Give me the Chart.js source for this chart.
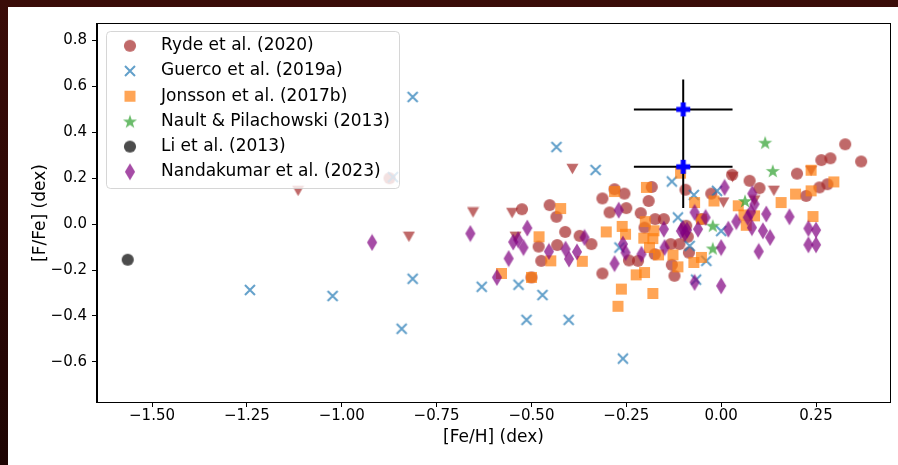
<!DOCTYPE html>
<html><head><meta charset="utf-8">
<script src="https://cdn.jsdelivr.net/npm/chart.js@4.4.1/dist/chart.umd.min.js"></script>
<style>html,body{margin:0;padding:0;background:#220504;overflow:hidden}canvas{display:block}</style>
</head><body><canvas id="c" width="898" height="465"></canvas>
<script>
// ---------------- data ----------------
const xTickValues = [-1.5, -1.25, -1.0, -0.75, -0.5, -0.25, 0.0, 0.25];
const xTickLabels = ['−1.50','−1.25','−1.00','−0.75','−0.50','−0.25','0.00','0.25'];
const yTickValues = [-0.6, -0.4, -0.2, 0.0, 0.2, 0.4, 0.6, 0.8];
const yTickLabels = ['−0.6','−0.4','−0.2','0.0','0.2','0.4','0.6','0.8'];
const xTitle = '[Fe/H] (dex)';
const yTitle = '[F/Fe] (dex)';
const legendLabels = ['Ryde et al. (2020)','Guerco et al. (2019a)','Jonsson et al. (2017b)','Nault & Pilachowski (2013)','Li et al. (2013)','Nandakumar et al. (2023)'];

const rydeFeH = [-0.874,-0.525,-0.452,-0.434,-0.411,-0.373,-0.342,-0.481,-0.432,-0.474,-0.500,-0.313,-0.313,-0.281,-0.255,-0.294,-0.250,-0.243,-0.219,-0.183,-0.191,-0.212,-0.202,-0.174,-0.151,-0.175,-0.133,-0.110,-0.130,-0.123,-0.094,-0.092,-0.088,-0.085,0.029,0.075,0.101,-0.026,0.200,0.224,0.259,0.280,0.264,0.288,0.327,0.369,-0.052];
const rydeFFe = [0.200,0.065,0.083,0.032,-0.034,-0.051,-0.087,-0.098,-0.091,-0.160,-0.232,-0.215,0.112,0.152,0.133,0.051,0.070,-0.158,-0.160,0.162,0.101,0.048,-0.015,0.022,0.022,-0.131,-0.087,-0.087,-0.177,-0.225,0.150,-0.007,-0.055,-0.124,0.215,0.189,0.157,0.133,0.220,0.123,0.160,0.174,0.279,0.287,0.348,0.273,0.022];

const rydeLimFeH = [-1.115,-0.823,-0.654,-0.551,-0.542,-0.392,0.030,0.006,0.088,0.139,0.237];
const rydeLimFFe = [0.145,-0.055,0.051,0.048,-0.055,0.240,0.205,0.094,0.103,0.145,0.232];

const guercoFeH = [-1.242,-1.024,-0.842,-0.813,-0.813,-0.631,-0.534,-0.513,-0.471,-0.434,-0.402,-0.331,-0.259,-0.865,-0.130,-0.114,-0.268,-0.072,-0.011,-0.083,-0.039,-0.066,0.000];
const guercoFFe = [-0.287,-0.313,-0.456,0.554,-0.238,-0.273,-0.264,-0.417,-0.309,0.336,-0.417,0.236,-0.586,0.205,0.186,0.029,-0.102,0.127,0.145,-0.095,-0.160,-0.242,-0.030];

const jonssonFeH = [-0.423,-0.480,-0.449,-0.366,-0.579,-0.500,-0.303,-0.281,-0.261,-0.252,-0.263,-0.272,-0.197,-0.200,-0.204,-0.189,-0.177,-0.180,-0.165,-0.224,-0.202,-0.180,-0.127,-0.114,-0.107,-0.070,-0.052,-0.052,-0.072,0.045,0.060,0.066,0.088,0.158,0.196,0.237,0.237,0.297,0.242,-0.019];
const jonssonFFe = [0.068,-0.055,-0.160,-0.162,-0.215,-0.232,-0.034,0.142,-0.010,-0.044,-0.283,-0.358,0.160,0.011,-0.061,-0.102,-0.029,-0.063,-0.134,-0.221,-0.211,-0.302,-0.134,-0.186,0.222,0.094,0.022,-0.145,-0.167,0.080,0.040,-0.005,0.036,0.094,0.131,0.145,0.235,0.184,0.033,0.101];

const naultFeH = [0.116,0.136,0.063,-0.022,-0.022];
const naultFFe = [0.355,0.232,0.101,-0.007,-0.106];

const liFeH = [-1.564];
const liFFe = [-0.155];

const nandaFeH = [-0.920,-0.661,-0.511,-0.548,-0.535,-0.521,-0.560,-0.591,-0.454,-0.410,-0.401,-0.380,-0.360,-0.281,-0.270,-0.259,-0.252,-0.210,-0.151,-0.149,-0.101,-0.090,-0.095,-0.070,-0.061,-0.041,-0.070,0.000,0.000,0.009,0.019,0.040,0.070,0.082,0.088,0.078,0.081,0.119,0.110,0.129,0.099,0.180,0.230,0.250,0.230,0.250,-0.106];
const nandaFFe = [-0.080,-0.041,-0.017,-0.078,-0.068,-0.102,-0.150,-0.232,-0.119,-0.109,-0.152,-0.121,-0.058,-0.172,0.061,-0.087,-0.124,-0.131,-0.022,-0.102,-0.019,-0.026,-0.040,0.051,-0.022,0.029,-0.254,-0.102,-0.269,0.160,-0.022,0.011,0.029,0.133,0.087,0.051,-0.015,0.044,-0.029,-0.058,-0.119,0.032,-0.019,-0.026,-0.090,-0.090,-0.030];

const ourFeH = [-0.10, -0.10];
const ourFFe = [0.50, 0.25];
const ourFeHErr = [0.13, 0.13];
const ourFFeErr = [0.13, 0.18];

// ---------------- styles ----------------
const FONT = 'DejaVu Sans';
const C_RYDE = 'rgba(165,42,42,0.7)';
const C_GUER = 'rgba(31,119,180,0.7)';
const C_JONS = 'rgba(255,127,14,0.7)';
const C_NAUL = 'rgba(44,160,44,0.7)';
const C_LI   = 'rgba(0,0,0,0.7)';
const C_NAND = 'rgba(128,0,128,0.7)';
const C_OUR  = '#0000ff';

function makeMarker(w, h, fn) {
  const c = document.createElement('canvas');
  c.width = w; c.height = h;
  fn(c.getContext('2d'), w / 2, h / 2);
  return c;
}
const circleMarker = col => makeMarker(14, 14, (g, cx, cy) => {
  g.fillStyle = col; g.beginPath(); g.arc(cx, cy, 6.1, 0, Math.PI * 2); g.fill();
});
const mRyde = circleMarker(C_RYDE);
const mLi = circleMarker(C_LI);
const mRydeLim = makeMarker(13, 12, (g) => {
  g.fillStyle = C_RYDE; g.beginPath(); g.moveTo(0.5, 0.8); g.lineTo(12.5, 0.8); g.lineTo(6.5, 11.2); g.closePath(); g.fill();
});
const mGuer = makeMarker(14, 14, (g, cx, cy) => {
  const d = 5.0; g.strokeStyle = C_GUER; g.lineWidth = 2; g.beginPath();
  g.moveTo(cx - d, cy - d); g.lineTo(cx + d, cy + d); g.moveTo(cx + d, cy - d); g.lineTo(cx - d, cy + d); g.stroke();
});
const mJons = makeMarker(13, 13, (g) => { g.fillStyle = C_JONS; g.fillRect(1, 1, 11, 11); });
const mNaul = makeMarker(16, 16, (g, cx, cy) => {
  g.fillStyle = C_NAUL; g.beginPath();
  for (let i = 0; i < 10; i++) {
    const r = i % 2 === 0 ? 7.4 : 2.9;
    const a = -Math.PI / 2 + i * Math.PI / 5;
    const px = cx + r * Math.cos(a), py = cy + 0.6 + r * Math.sin(a);
    if (i === 0) g.moveTo(px, py); else g.lineTo(px, py);
  }
  g.closePath(); g.fill();
});
const mNand = makeMarker(12, 18, (g, cx, cy) => {
  g.fillStyle = C_NAND; g.beginPath();
  g.moveTo(cx, 0.5); g.lineTo(cx + 5.1, cy); g.lineTo(cx, 17.5); g.lineTo(cx - 5.1, cy); g.closePath(); g.fill();
});
const mOur = makeMarker(16, 16, (g, cx, cy) => {
  const a = 2.5, s = 7; g.fillStyle = C_OUR; g.beginPath();
  g.moveTo(cx - a, cy - s); g.lineTo(cx + a, cy - s); g.lineTo(cx + a, cy - a); g.lineTo(cx + s, cy - a);
  g.lineTo(cx + s, cy + a); g.lineTo(cx + a, cy + a); g.lineTo(cx + a, cy + s); g.lineTo(cx - a, cy + s);
  g.lineTo(cx - a, cy + a); g.lineTo(cx - s, cy + a); g.lineTo(cx - s, cy - a); g.lineTo(cx - a, cy - a);
  g.closePath(); g.fill();
});

const pts = (xs, ys) => xs.map((x, i) => ({ x: x, y: ys[i] }));
const ds = (label, xs, ys, marker, order, inLegend) => ({
  label, data: pts(xs, ys), pointStyle: marker, pointRadius: 6, pointHoverRadius: 6, order, inLegend, showLine: false
});

const datasets = [
  ds(legendLabels[0], rydeFeH, rydeFFe, mRyde, 8, true),
  ds('Ryde et al. (2020) upper limits', rydeLimFeH, rydeLimFFe, mRydeLim, 7, false),
  ds(legendLabels[1], guercoFeH, guercoFFe, mGuer, 6, true),
  ds(legendLabels[2], jonssonFeH, jonssonFFe, mJons, 5, true),
  ds(legendLabels[3], naultFeH, naultFFe, mNaul, 4, true),
  ds(legendLabels[4], liFeH, liFFe, mLi, 3, true),
  ds(legendLabels[5], nandaFeH, nandaFFe, mNand, 2, true),
  Object.assign(ds('This work', ourFeH, ourFFe, mOur, 1, false), { errX: ourFeHErr, errY: ourFFeErr })
];

// ---------------- plugins ----------------
const bgPlugin = {
  id: 'bg',
  beforeDraw(chart) {
    const g = chart.ctx, W = chart.width, H = chart.height;
    g.save();
    const gr = g.createLinearGradient(0, 0, 0, H);
    gr.addColorStop(0, '#3a0c08'); gr.addColorStop(0.6, '#2a0705'); gr.addColorStop(1, '#1e0503');
    g.fillStyle = gr; g.fillRect(0, 0, W, H);
    g.fillStyle = '#ffffff'; g.fillRect(8, 7, W - 8, H - 7);
    g.restore();
  }
};

const errPlugin = {
  id: 'errbars',
  beforeDatasetDraw(chart, args) {
    const d = chart.data.datasets[args.index];
    if (!d.errX) return;
    const g = chart.ctx, xs = chart.scales.x, ys = chart.scales.y;
    g.save(); g.strokeStyle = '#000'; g.lineWidth = 2; g.beginPath();
    d.data.forEach((p, i) => {
      const py = ys.getPixelForValue(p.y), px = xs.getPixelForValue(p.x);
      g.moveTo(xs.getPixelForValue(p.x - d.errX[i]), py); g.lineTo(xs.getPixelForValue(p.x + d.errX[i]), py);
      g.moveTo(px, ys.getPixelForValue(p.y + d.errY[i])); g.lineTo(px, ys.getPixelForValue(p.y - d.errY[i]));
    });
    g.stroke(); g.restore();
  }
};

const legendBox = { x: 106.5, y: 31.5, w: 293, h: 157, r: 4, markerX: 130, textX: 161, row0: 45.8, step: 25.2 };
const framePlugin = {
  id: 'frameLegend',
  afterDatasetsDraw(chart) {
    const g = chart.ctx, a = chart.chartArea;
    g.save();
    const b = legendBox;
    g.beginPath();
    g.moveTo(b.x + b.r, b.y); g.lineTo(b.x + b.w - b.r, b.y); g.arcTo(b.x + b.w, b.y, b.x + b.w, b.y + b.r, b.r);
    g.lineTo(b.x + b.w, b.y + b.h - b.r); g.arcTo(b.x + b.w, b.y + b.h, b.x + b.w - b.r, b.y + b.h, b.r);
    g.lineTo(b.x + b.r, b.y + b.h); g.arcTo(b.x, b.y + b.h, b.x, b.y + b.h - b.r, b.r);
    g.lineTo(b.x, b.y + b.r); g.arcTo(b.x, b.y, b.x + b.r, b.y, b.r); g.closePath();
    g.fillStyle = 'rgba(255,255,255,0.8)'; g.fill();
    g.strokeStyle = 'rgba(204,204,204,0.8)'; g.lineWidth = 1; g.stroke();
    g.font = '17px "' + FONT + '"'; g.fillStyle = '#000'; g.textBaseline = 'middle'; g.textAlign = 'left';
    chart.data.datasets.filter(d => d.inLegend).forEach((d, i) => {
      const y = b.row0 + i * b.step, img = d.pointStyle;
      g.drawImage(img, b.markerX - img.width / 2, y - img.height / 2);
      g.fillText(d.label, b.textX, y);
    });
    g.strokeStyle = '#000'; g.lineWidth = 1;
    g.strokeRect(Math.round(a.left) - 0.5, Math.round(a.top) - 0.5, Math.round(a.right - a.left) + 1, Math.round(a.bottom - a.top) + 1);
    g.restore();
  }
};

const tickLabel = (vals, labels) => (v) => {
  const i = vals.findIndex(t => Math.abs(t - v) < 1e-9);
  return i >= 0 ? labels[i] : '';
};

new Chart(document.getElementById('c').getContext('2d'), {
  type: 'scatter',
  data: { datasets },
  options: {
    responsive: false, animation: false, devicePixelRatio: 1, events: [],
    layout: { padding: { left: 0, right: 8, top: 24, bottom: 0 } },
    plugins: { legend: { display: false }, tooltip: { enabled: false } },
    scales: {
      x: {
        type: 'linear', min: -1.645, max: 0.445,
        afterBuildTicks: s => { s.ticks = xTickValues.map(v => ({ value: v })); },
        afterFit: s => { s.height = 63; },
        ticks: { autoSkip: false, maxRotation: 0, padding: 0, color: '#000', font: { family: FONT, size: 15 }, callback: tickLabel(xTickValues, xTickLabels) },
        grid: { display: true, drawOnChartArea: false, drawTicks: true, tickLength: 5, tickColor: '#000', tickWidth: 1 },
        border: { display: true, color: '#000', width: 1 },
        title: { display: true, text: xTitle, color: '#000', font: { family: FONT, size: 17 }, padding: { top: 0, bottom: 17 } }
      },
      y: {
        type: 'linear', min: -0.775, max: 0.872,
        afterBuildTicks: s => { s.ticks = yTickValues.map(v => ({ value: v })); },
        afterFit: s => { s.width = 97; },
        ticks: { autoSkip: false, padding: 5, color: '#000', font: { family: FONT, size: 15 }, callback: tickLabel(yTickValues, yTickLabels) },
        grid: { display: true, drawOnChartArea: false, drawTicks: true, tickLength: 5, tickColor: '#000', tickWidth: 1 },
        border: { display: true, color: '#000', width: 1 },
        title: { display: true, text: yTitle, color: '#000', font: { family: FONT, size: 17 }, padding: { top: 30, bottom: 0 } }
      }
    }
  },
  plugins: [bgPlugin, errPlugin, framePlugin]
});
</script></body></html>
